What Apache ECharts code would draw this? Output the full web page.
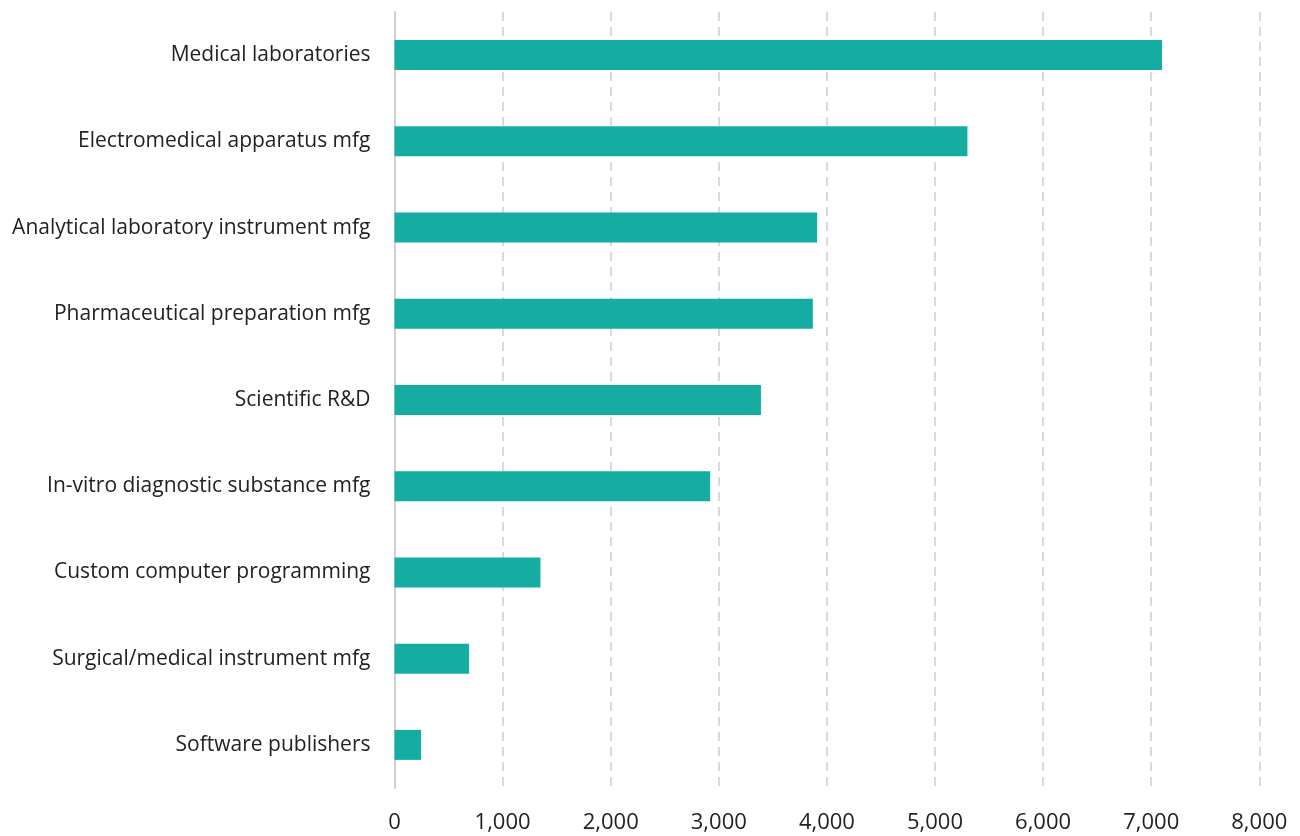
<!DOCTYPE html>
<html>
<head>
<meta charset="utf-8">
<script src="https://cdn.jsdelivr.net/npm/echarts@6/dist/echarts.min.js"></script>
<style>html,body{margin:0;padding:0;background:#fff}#c{width:1300px;height:836px}</style>
</head>
<body>
<div id="c"></div>
<script>
const categories = [
  "Medical laboratories",
  "Electromedical apparatus mfg",
  "Analytical laboratory instrument mfg",
  "Pharmaceutical preparation mfg",
  "Scientific R&D",
  "In-vitro diagnostic substance mfg",
  "Custom computer programming",
  "Surgical/medical instrument mfg",
  "Software publishers"
];
const values = [7100, 5300, 3910, 3870, 3390, 2920, 1350, 690, 245];
const xTicks = { min: 0, max: 8000, interval: 1000 };

const chart = echarts.init(document.getElementById('c'), null, {renderer: 'canvas'});
chart.setOption({
  animation: false,
  grid: { left: 394.5, right: 40.7, top: 12, bottom: 48, containLabel: false },
  xAxis: {
    type: 'value', min: xTicks.min, max: xTicks.max, interval: xTicks.interval,
    axisLine: { show: false }, axisTick: { show: false },
    splitLine: { show: true, lineStyle: { color: '#dadada', width: 2, type: [9, 6] } },
    axisLabel: {
      color: '#222', fontFamily: 'Open Sans', fontSize: 22, margin: 24,
      formatter: v => v.toLocaleString('en-US')
    }
  },
  yAxis: {
    type: 'category', data: categories, inverse: true,
    axisLine: { show: true, lineStyle: { color: '#d0d0d0', width: 2 } },
    axisTick: { show: false },
    axisLabel: { color: '#222', fontFamily: 'Open Sans', fontSize: 21, margin: 24 }
  },
  series: [{
    type: 'bar', data: values, barWidth: 30,
    itemStyle: { color: '#15ada1' }
  }]
});
</script>
</body>
</html>
